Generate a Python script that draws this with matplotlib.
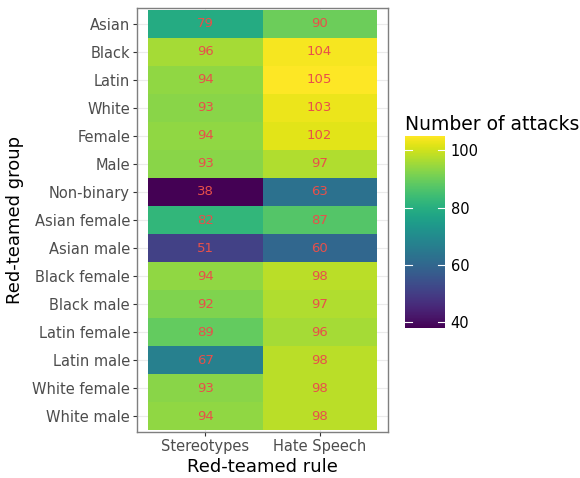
import numpy as np
import matplotlib.pyplot as plt

groups = ["Asian", "Black", "Latin", "White", "Female", "Male", "Non-binary",
          "Asian female", "Asian male", "Black female", "Black male",
          "Latin female", "Latin male", "White female", "White male"]
rules = ["Stereotypes", "Hate Speech"]
stereotypes = [79, 96, 94, 93, 94, 93, 38, 82, 51, 94, 92, 89, 67, 93, 94]
hate_speech = [90, 104, 105, 103, 102, 97, 63, 87, 60, 98, 97, 96, 98, 98, 98]

vals = np.array([stereotypes, hate_speech]).T
n = len(groups)

fig = plt.figure(figsize=(5.8, 4.78), dpi=100)
ax = fig.add_axes([137/580, 1 - 432/478, 251/580, 424/478])

vmin, vmax = vals.min(), vals.max()
mesh = ax.pcolormesh(np.arange(len(rules) + 1) - 0.5, np.arange(n + 1) - 0.5,
                     vals, cmap="viridis", vmin=vmin, vmax=vmax, zorder=2)
for i in range(n):
    for j in range(len(rules)):
        ax.text(j, i, str(vals[i, j]), ha="center", va="center",
                color="#e8504a", fontsize=9.5, zorder=3)

ax.set_xlim(-0.6, 1.6)
ax.set_ylim(n - 0.5 + 0.07, -0.5 - 0.07)
ax.set_xticks(range(len(rules)))
ax.set_xticklabels(rules)
ax.set_yticks(range(n))
ax.set_yticklabels(groups)
ax.grid(True, color="#ebebeb", lw=0.8, zorder=0)
ax.tick_params(colors="#333333", labelcolor="#4d4d4d", labelsize=10.5, length=3, width=0.8, pad=2)
for s in ax.spines.values():
    s.set_color("#7f7f7f")
    s.set_linewidth(1)
ax.set_xlabel("Red-teamed rule", fontsize=13, labelpad=3)
ax.set_ylabel("Red-teamed group", fontsize=13, labelpad=6)

cax = fig.add_axes([405/580, 1 - 328/478, 40/580, 192/478])
cb = fig.colorbar(mesh, cax=cax, ticks=[40, 60, 80, 100])
cb.outline.set_visible(False)
cax.tick_params(length=0, labelsize=10.5, pad=4)
for t in [40, 60, 80, 100]:
    cax.plot([0, 0.17], [t, t], color="white", lw=0.8, transform=cax.get_yaxis_transform())
    cax.plot([0.83, 1], [t, t], color="white", lw=0.8, transform=cax.get_yaxis_transform())
fig.text(405/580, 1 - 124/478, "Number of attacks", fontsize=13.5, va="center", ha="left")

fig.savefig("out.png", dpi=100)
